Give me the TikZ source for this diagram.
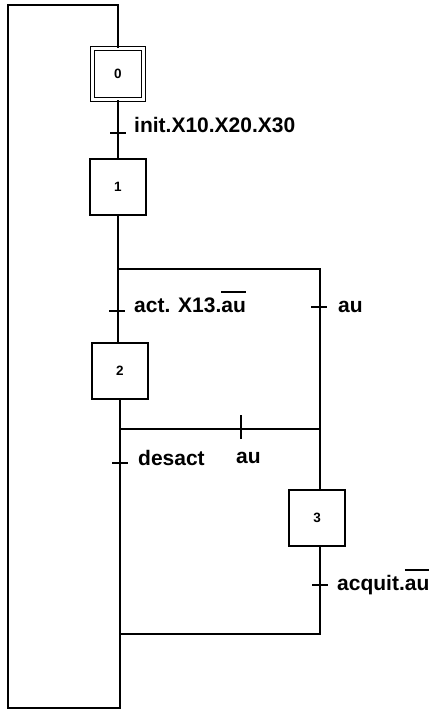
\documentclass[tikz,border=0pt]{standalone}
\usepackage{fontspec}
\setmainfont{Liberation Sans}
\usetikzlibrary{positioning}

\newcommand{\ovl}[1]{\vbox{\hrule height 2pt\kern 7.5pt\hbox{#1}}}

\tikzset{
  stepbox/.style={draw, line width=1.3pt, minimum size=56pt, inner sep=0pt,
    font=\fontsize{13.5}{15}\selectfont\bfseries},
  initstep/.style={stepbox, minimum size=51pt, double, double distance=2.6pt},
  cond/.style={anchor=base west, inner sep=0pt,
    font=\fontsize{21}{24}\selectfont\bfseries},
  wire/.style={line width=1.3pt},
}

\begin{document}
\begin{tikzpicture}[x=1pt,y=-1pt]
\useasboundingbox (0,0) rectangle (432,711);
% etapes
\node[initstep] (s0) at (118,74) {0};
\node[stepbox] (s1) at (118,187) {1};
\node[stepbox] (s2) at (120,371) {2};
\node[stepbox] (s3) at (317,518) {3};
% points de liaison
\coordinate (ctr) at (118,5);
\coordinate (ctl) at (8,5);
\coordinate (cbl) at (8,708);
\coordinate (cbr) at (120,708);
\coordinate (j1) at (118,269);
\coordinate (j1r) at (320,269);
\coordinate (j2) at (120,429);
\coordinate (j2r) at (320,429);
\coordinate (j3) at (120,634);
\coordinate (j3r) at (320,634);
% liaisons
\draw[wire] (s0.north) -- (ctr) -- (ctl) -- (cbl) -- (cbr) -- (j3);
\draw[wire] (s0.south) -- (s1.north);
\draw[wire] (s1.south) -- (j1) -- (j1r) -- (j2r) -- (j2r |- s3.north);
\draw[wire] (j1) -- (j1 |- s2.north);
\draw[wire] (s2.south) -- (j2) -- (j3);
\draw[wire] (j2) -- (j2r);
\draw[wire] (j2r |- s3.south) -- (j3r) -- (j3);
% transitions
\coordinate (t0) at (118,133);
\coordinate (t1) at (117,311);
\coordinate (t1r) at (319,307);
\coordinate (t2) at (241,429);
\coordinate (t3) at (120,463);
\coordinate (t4) at (320,585);
\foreach \t in {t0,t1,t1r,t3,t4}{
  \draw[wire] ([xshift=-8pt]\t) -- ([xshift=8pt]\t);
}
\draw[wire] ([yshift=-10pt]t2) -- ([yshift=14pt]t2);
% receptivites
\node[cond] (r0) at (134,133) {init.X10.X20.X30};
\node[cond] (r1) at (134,312) {act. X13.\ovl{au}};
\node[cond] (r1r) at (338,312) {au};
\node[cond] (r2) at (236,463) {au};
\node[cond] (r3) at (138,465) {desact};
\node[cond] (r4) at (337,590) {acquit.\ovl{au}};
\end{tikzpicture}
\end{document}
